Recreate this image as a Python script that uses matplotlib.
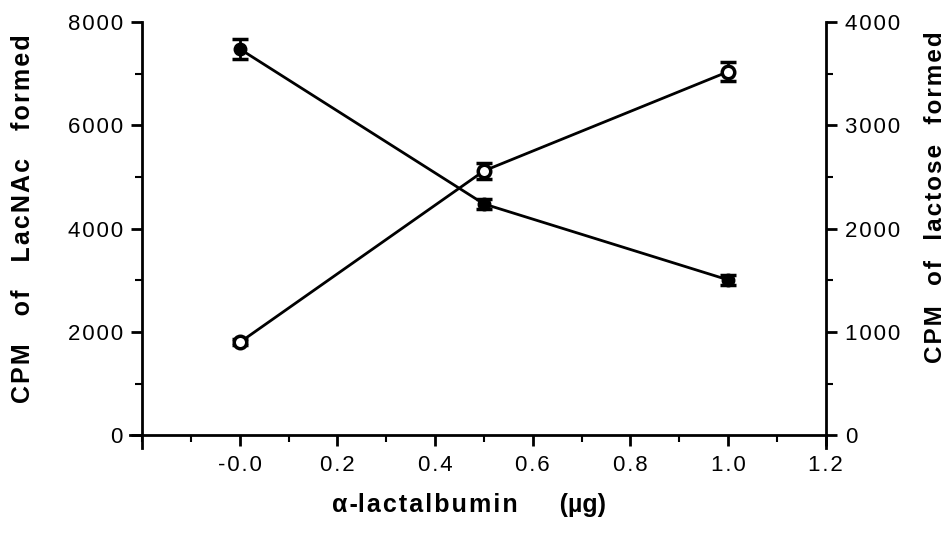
import matplotlib.pyplot as plt
from matplotlib.ticker import MultipleLocator, FuncFormatter

plt.rcParams['font.family'] = ['Liberation Sans', 'DejaVu Sans']

# Data
dose = [0.0, 0.5, 1.0]
lacnac = [7480, 4480, 3010]
lacnac_err = [190, 100, 100]
lactose = [900, 2560, 3520]
lactose_err = [30, 80, 90]

x_ticks = [0.0, 0.2, 0.4, 0.6, 0.8, 1.0, 1.2]
left_ticks = [0, 2000, 4000, 6000, 8000]
right_ticks = [0, 1000, 2000, 3000, 4000]


def spaced(s):
    # the old typesetting has wide letter spacing
    return '\u200a'.join(s)


fig = plt.figure(figsize=(9.53, 5.4), dpi=100)
ax = fig.add_axes([0.1364, 0.170, 0.730, 0.789])
ax2 = ax.twinx()

ax.errorbar(dose, lacnac, yerr=lacnac_err, color='black', lw=2, marker='o',
            ms=9, mfc='black', mec='black', capsize=6, elinewidth=2, capthick=2.5,
            zorder=3)
ax2.errorbar(dose, lactose, yerr=lactose_err, color='black', lw=2, marker='o',
             ms=9, mfc='white', mec='black', mew=2.5, capsize=6, elinewidth=2,
             capthick=2.5, zorder=3)

ax.set_xlim(-0.225, 1.2)
ax.set_ylim(-250, 8000)
ax2.set_ylim(-125, 4000)

ax.spines['left'].set_position(('data', -0.2))
ax.spines['bottom'].set_position(('data', 0))
for s in ['top', 'right']:
    ax.spines[s].set_visible(False)
for s in ['top', 'left', 'bottom']:
    ax2.spines[s].set_visible(False)
for sp in [ax.spines['left'], ax.spines['bottom'], ax2.spines['right']]:
    sp.set_linewidth(2)

ax.set_xticks(x_ticks)
ax.xaxis.set_minor_locator(MultipleLocator(0.1))
ax.xaxis.set_major_formatter(FuncFormatter(
    lambda v, p: spaced('-0.0') if abs(v) < 1e-9 else spaced(f'{v:.1f}')))
ax.set_yticks(left_ticks)
ax.yaxis.set_minor_locator(MultipleLocator(1000))
ax.yaxis.set_major_formatter(FuncFormatter(lambda v, p: spaced(f'{v:.0f}')))
ax2.set_yticks(right_ticks)
ax2.yaxis.set_minor_locator(MultipleLocator(500))
ax2.yaxis.set_major_formatter(FuncFormatter(lambda v, p: spaced(f'{v:.0f}')))

ax.tick_params(axis='both', which='major', length=8, width=2, labelsize=16, pad=6)
ax.tick_params(axis='both', which='minor', length=5, width=1.5)
ax2.tick_params(axis='y', which='major', length=8, width=2, labelsize=16, pad=6)
ax2.tick_params(axis='y', which='minor', length=5, width=1.5)

ax.set_xlabel('α\u200a-' + spaced('lactalbumin') + '      (µg)',
              fontsize=18, fontweight='bold')
ax.set_ylabel('    '.join(spaced(w) for w in ['CPM', 'of', 'LacNAc', 'formed']),
              fontsize=18, fontweight='bold')
ax2.set_ylabel('   '.join(spaced(w) for w in ['CPM', 'of', 'lactose', 'formed']),
               fontsize=17.5, fontweight='bold', rotation=90)
ax.xaxis.set_label_coords(0.488, -0.105)
ax.yaxis.set_label_coords(-0.137, 0.54)
ax2.yaxis.set_label_coords(1.142, 0.59)

fig.savefig('out.png', dpi=100)
